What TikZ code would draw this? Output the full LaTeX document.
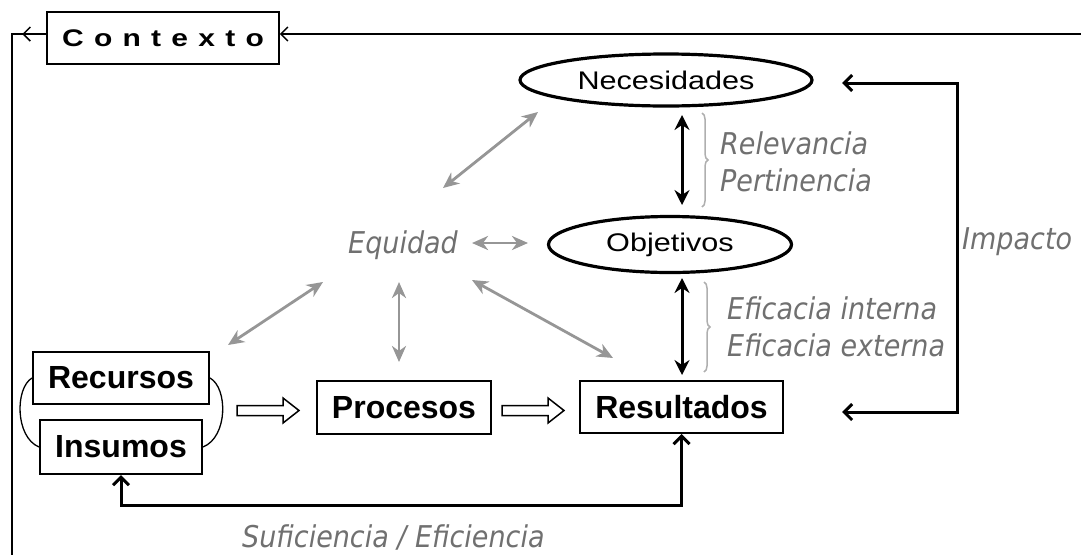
\documentclass[tikz,border=0pt]{standalone}
\usepackage{fontspec}
\usepackage{graphicx}
\setmainfont{Liberation Sans}
\newfontfamily\grayfont[FakeStretch=0.9]{DejaVu Sans}
\usetikzlibrary{arrows.meta,decorations.pathreplacing,shapes.geometric,calc}
\definecolor{txtgray}{RGB}{112,112,112}
\definecolor{arrgray}{RGB}{150,150,150}
\definecolor{bracegray}{RGB}{175,175,175}
\newcommand{\widetext}[1]{\scalebox{1.2}[1]{#1}}
\tikzset{
  boxnode/.style={draw, line width=2pt, inner sep=0pt, font=\fontsize{32}{32}\selectfont\bfseries},
  ellnode/.style={draw, ellipse, line width=3.2pt, inner sep=0pt, font=\fontsize{25.5}{25.5}\selectfont},
  lbl/.style={text=txtgray, font=\grayfont\itshape\fontsize{30}{30}\selectfont, inner sep=0pt, anchor=base west},
  grayarrow/.style={arrgray, line width=2.8pt, {Stealth[length=16pt,width=14pt,inset=5pt]}-{Stealth[length=16pt,width=14pt,inset=5pt]}},
  blackvert/.style={line width=3pt, {Stealth[length=15pt,width=15pt,inset=5pt]}-{Stealth[length=15pt,width=15pt,inset=5pt]}},
  barbboth/.style={line width=3pt, {Straight Barb[length=8pt,width=16pt]}-{Straight Barb[length=8pt,width=16pt]}},
  ctxline/.style={line width=1.5pt},
  ctxarrow/.style={line width=1.5pt, -{Straight Barb[length=7pt,width=14pt]}},
  hollow/.style={draw, line width=1.5pt, fill=white, line join=miter},
  bracestyle/.style={bracegray, line width=1.5pt, decorate, decoration={brace, amplitude=6pt}},
}
\begin{document}
\begin{tikzpicture}[x=1pt,y=-1pt]
\useasboundingbox (0,0) rectangle (1081,555);

% Contexto
\node[draw, line width=1.5pt, inner sep=0pt, minimum width=232pt, minimum height=52pt,
      font=\fontsize{24}{24}\selectfont\bfseries] (ctx) at (163,38)
      {\scalebox{1.25}[1]{\spaceskip=8.2pt plus 0pt minus 0pt C o n t e x t o}};
\coordinate (cL) at (12,34);
\coordinate (cR) at (1081,34);
\coordinate (cBot) at (12,555);
\draw[ctxline] (ctx.west |- cL) -- (cL) -- (cBot);
\draw[ctxarrow] (ctx.west |- cL) -- ++(-24,0);
\draw[ctxarrow] (cR) -- (ctx.east |- cR);

% ellipses
\node[ellnode, minimum width=292pt, minimum height=52pt] (nec) at (666,80) {\widetext{Necesidades}};
\node[ellnode, minimum width=243pt, minimum height=56pt] (obj) at (670,244.5) {\widetext{Objetivos}};

% boxes
\node[boxnode, minimum width=176pt, minimum height=52pt] (rec) at (121,378) {Recursos};
\node[boxnode, minimum width=162pt, minimum height=54pt] (ins) at (121,447) {Insumos};
\node[boxnode, minimum width=174pt, minimum height=53pt] (pro) at (404,407.5) {Procesos};
\node[boxnode, minimum width=203pt, minimum height=52pt] (res) at (681.5,407) {Resultados};

% arcs joining Recursos and Insumos
\draw[line width=1.3pt] (rec.west) .. controls +(-17,10) and +(-24,-10) .. (ins.west);
\draw[line width=1.3pt] (rec.east) .. controls +(18,10) and +(25,-10) .. (ins.east);

% hollow arrows
\draw[hollow] (237,405.5) -- (283,405.5) -- (283,398) -- (299,410.5) -- (283,423) -- (283,415.5) -- (237,415.5) -- cycle;
\draw[hollow] (502,405.5) -- (548,405.5) -- (548,398) -- (564,410.5) -- (548,423) -- (548,415.5) -- (502,415.5) -- cycle;

% labels
\node[lbl] (equ) at (348,253) {Equidad};
\node[lbl] (rel) at (720,154) {Relevancia};
\node[lbl] (per) at (720,191) {Pertinencia};
\node[lbl] (efi) at (727,319) {Eficacia interna};
\node[lbl] (efe) at (727,356) {Eficacia externa};
\node[lbl] (imp) at (962,249) {Impacto};
\node[lbl] (suf) at (242,547) {Suficiencia / Eficiencia};

% gray arrows around Equidad
\coordinate (g1a) at (443,188); \coordinate (g1b) at (538,112);
\coordinate (g2a) at (472,243); \coordinate (g2b) at (528,243);
\coordinate (g3a) at (323,282); \coordinate (g3b) at (228,345);
\coordinate (g4a) at (399,282); \coordinate (g4b) at (399,362);
\coordinate (g5a) at (472,280); \coordinate (g5b) at (613,358);
\draw[grayarrow] (g1a) -- (g1b);
\draw[grayarrow] (g2a) -- (g2b);
\draw[grayarrow] (g3a) -- (g3b);
\draw[grayarrow] (g4a) -- (g4b);
\draw[grayarrow] (g5a) -- (g5b);

% black vertical arrows
\coordinate (v1a) at (682,115); \coordinate (v1b) at (682,205);
\coordinate (v2a) at (682,278); \coordinate (v2b) at (682,375);
\draw[blackvert] (v1a) -- (v1b);
\draw[blackvert] (v2a) -- (v2b);

% braces
\draw[bracestyle] (702,113) -- (702,207);
\draw[bracestyle] (704,282) -- (704,372);

% Impacto loop
\coordinate (nin) at (842,83);
\coordinate (rin) at (842,412);
\coordinate (impx) at (957,0);
\draw[barbboth] (nin) -- (nin -| impx) -- (rin -| impx) -- (rin);

% bottom loop
\coordinate (bot) at (0,505);
\draw[barbboth] (ins.south) -- (ins.south |- bot) -| (res.south);
\end{tikzpicture}
\end{document}
